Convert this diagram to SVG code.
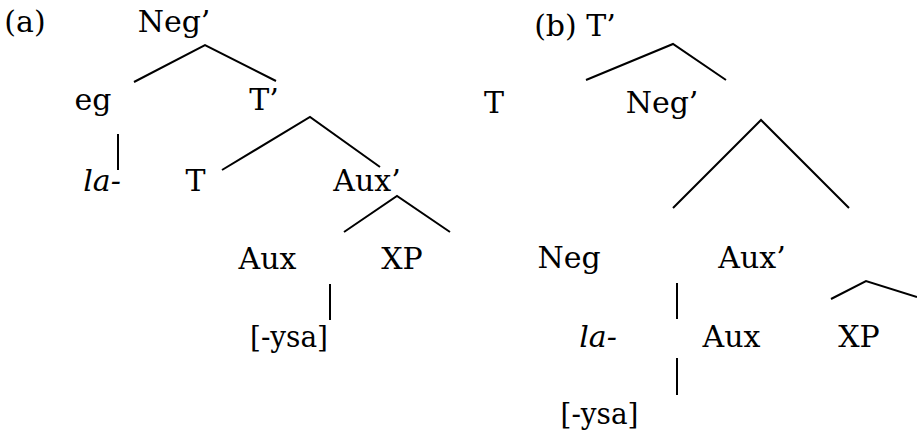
<svg xmlns="http://www.w3.org/2000/svg" width="917" height="434" viewBox="0 0 917 434">
<style>
.e{stroke:#000;stroke-width:2;fill:none}
.t{font-family:'DejaVu Serif','Liberation Serif',serif;font-size:30px;fill:#000;text-anchor:middle}
.it{font-style:italic}
</style>
<rect width="917" height="434" fill="#fff"/>
<g id="connectors">
<polyline class="e" points="134,82 205,45 276,81"/>
<line class="e" x1="118" y1="134" x2="118" y2="170"/>
<polyline class="e" points="222,170 310,117 380,167"/>
<polyline class="e" points="344,232 397,196 450,232"/>
<line class="e" x1="330" y1="284" x2="330" y2="320"/>
<polyline class="e" points="586,80 673,44 726,80"/>
<polyline class="e" points="673,208 761,120 849,208"/>
<line class="e" x1="677" y1="283" x2="677" y2="319"/>
<polyline class="e" points="831,299 866,281 917,297"/>
<line class="e" x1="677" y1="358" x2="677" y2="395"/>
</g>
<g class="t">
<g id="label-a"><text x="25" y="32">(a)</text></g>
<g id="a-negbar"><text x="174" y="32">Neg’</text></g>
<g id="a-neg"><text x="93" y="110">eg</text></g>
<g id="a-tbar"><text x="264" y="110">T’</text></g>
<g id="a-la"><text class="it" x="102" y="191">la-</text></g>
<g id="a-t"><text x="195.5" y="191">T</text></g>
<g id="a-auxbar"><text x="367" y="191">Aux’</text></g>
<g id="a-aux"><text x="267.5" y="269">Aux</text></g>
<g id="a-xp"><text x="402" y="269">XP</text></g>
<g id="a-ysa"><text x="289" y="347" textLength="78" lengthAdjust="spacingAndGlyphs">[-ysa]</text></g>
<g id="label-b"><text x="575" y="36">(b) T’</text></g>
<g id="b-t"><text x="494" y="113">T</text></g>
<g id="b-negbar"><text x="662" y="113">Neg’</text></g>
<g id="b-neg"><text x="569" y="268">Neg</text></g>
<g id="b-auxbar"><text x="752" y="268">Aux’</text></g>
<g id="b-la"><text class="it" x="598" y="347">la-</text></g>
<g id="b-aux"><text x="731.5" y="347">Aux</text></g>
<g id="b-xp"><text x="859" y="347">XP</text></g>
<g id="b-ysa"><text x="599.5" y="424" textLength="78" lengthAdjust="spacingAndGlyphs">[-ysa]</text></g>
</g>
</svg>
